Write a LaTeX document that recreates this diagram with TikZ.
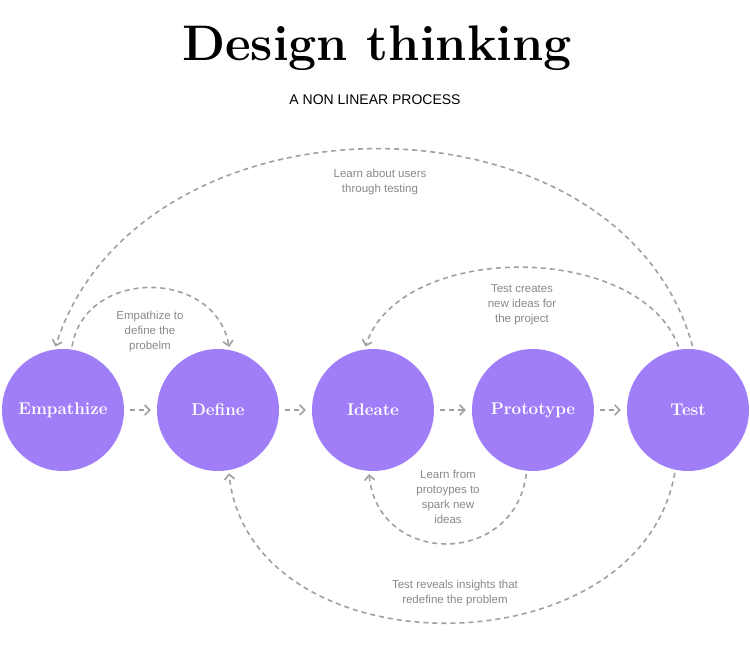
\documentclass[tikz,border=0pt]{standalone}
\usepackage{fontspec}
\setsansfont{Liberation Sans}
\usetikzlibrary{arrows.meta}
\definecolor{stage}{HTML}{A07EF8}
\definecolor{lnk}{HTML}{A0A0A0}
\definecolor{lbl}{HTML}{888888}
\begin{document}
\begin{tikzpicture}[x=1pt,y=-1pt,
  stagebox/.style={circle,fill=stage,minimum size=122pt,inner sep=0pt,text=white,font=\fontsize{17}{17}\selectfont\bfseries},
  link/.style={draw=lnk,line width=1.6pt,dash pattern=on 5pt off 4pt,-{Straight Barb[length=5pt,width=10pt]},shorten >=3pt,shorten <=3pt},
  note/.style={text=lbl,font=\sffamily\fontsize{11.5}{15}\selectfont,align=center}]
\useasboundingbox (0,0) rectangle (750,660);
\node (title) at (377,48) {\fontsize{50}{50}\selectfont\bfseries Design thinking};
\node (sub) at (375,100) {\sffamily\fontsize{14}{14}\selectfont A NON LINEAR PROCESS};
\node[stagebox] (emp) at (63,410) {Empathize};
\node[stagebox] (def) at (218,410) {Define};
\node[stagebox] (ide) at (373,410) {Ideate};
\node[stagebox] (pro) at (533,410) {Prototype};
\node[stagebox] (tst) at (688,410) {Test};
\foreach \a/\b in {emp/def,def/ide,ide/pro,pro/tst}
  \draw[link,shorten >=6pt,shorten <=6pt] (\a) -- (\b);
\draw[link] (tst.85) .. controls (620,83) and (140,83) .. (emp.98);
\draw[link] (emp.82) .. controls (85,268) and (215,268) .. (def.79);
\draw[link] (tst.98) .. controls (640,241) and (400,241) .. (ide.98);
\draw[link] (pro.264) .. controls (515,567) and (378,567) .. (ide.266);
\draw[link] (tst.258) .. controls (640,673) and (250,673) .. (def.280);
\node[note] (n1) at (380,182) {Learn about users\\through testing};
\node[note] (n2) at (150,332) {Empathize to\\define the\\probelm};
\node[note] (n3) at (522,305) {Test creates\\new ideas for\\the project};
\node[note] (n4) at (448,497) {Learn from\\protoypes to\\spark new\\ideas};
\node[note] (n5) at (455,593) {Test reveals insights that\\redefine the problem};
\end{tikzpicture}
\end{document}
